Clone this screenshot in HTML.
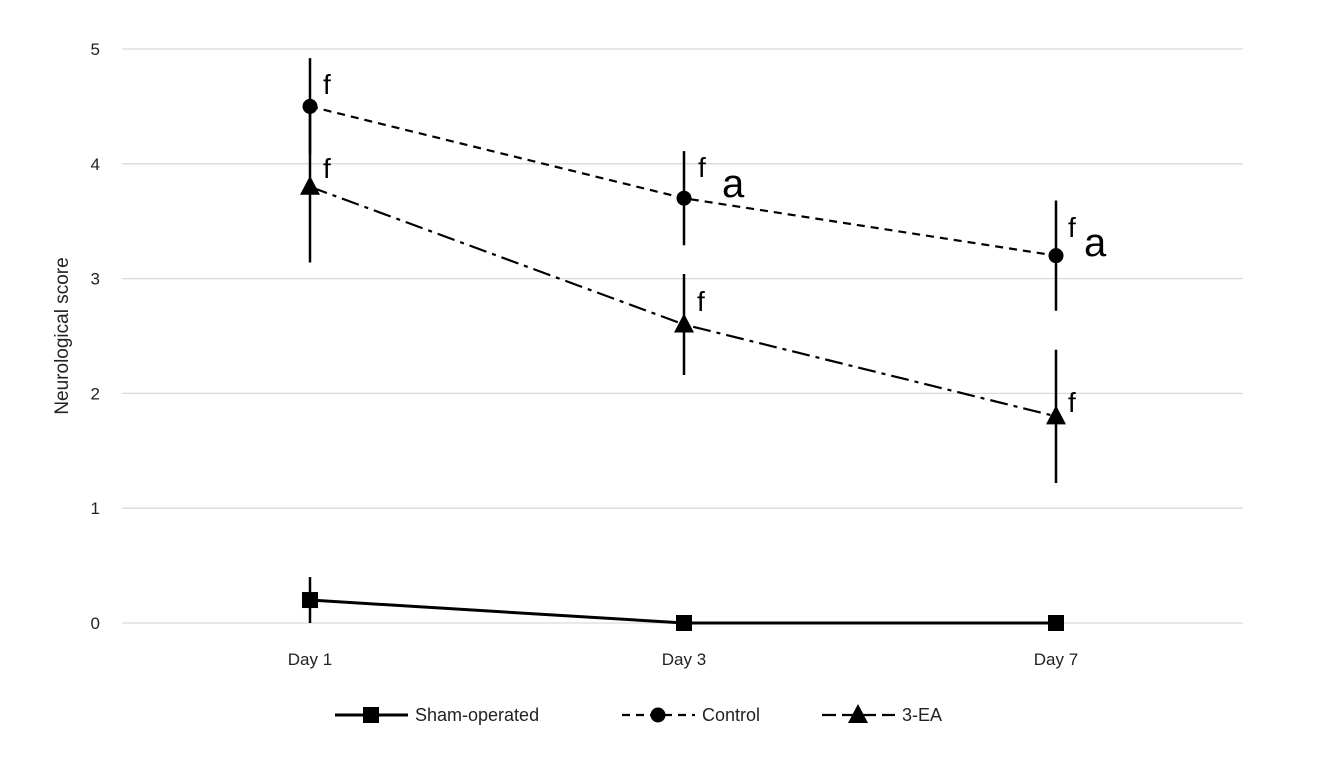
<!DOCTYPE html>
<html><head><meta charset="utf-8"><style>
body{margin:0;background:#fff;}
svg{display:block;font-family:"Liberation Sans",sans-serif;}
</style></head><body>
<svg id="chart" width="1322" height="782"></svg>
<script>
const days=["Day 1","Day 3","Day 7"];
const yTicks=[0,1,2,3,4,5];
const sham=[0.2,0,0];
const shamErr=[0.2,0,0];
const control=[4.5,3.7,3.2];
const controlErr=[0.42,0.41,0.48];
const ea=[3.8,2.6,1.8];
const eaErr=[0.66,0.44,0.58];
const NS="http://www.w3.org/2000/svg";
const svg=document.getElementById('chart');
const X0=122,X1=1243,Y0=623,Y5=49;
const xPos=[310,684,1056];
function x(i){return xPos[0]+(xPos[2]-xPos[0])*i/(days.length-1)*(i===1?0.5015:1);}
function xs(i){return [310,684,1056][i];}
function y(v){return Y0-(Y0-Y5)*v/5;}
function el(t,a,p){const e=document.createElementNS(NS,t);for(const k in a)e.setAttribute(k,a[k]);(p||svg).appendChild(e);return e;}
yTicks.forEach(t=>{
 const g=el('line',{x1:X0,x2:X1,y1:y(t),y2:y(t),stroke:'#d9d9d9','stroke-width':1.3});
 
 
 const l=el('text',{x:100,y:y(t)+6,'font-size':17,'text-anchor':'end',fill:'#222'});l.textContent=t;
 
 
});
days.forEach((d,i)=>{
 const l=el('text',{x:xs(i),y:665,'font-size':17,'text-anchor':'middle',fill:'#222'});l.textContent=d;
 
 
});
const yt=el('text',{x:68,y:336,'font-size':19,'text-anchor':'middle',fill:'#222',transform:'rotate(-90 68 336)'});
yt.textContent='Neurological score';


function series(vals,errs,dash,marker,name){
 const g=el('g',{});
 
 
 vals.forEach((v,i)=>{ if(errs[i]>0){
  const e=el('line',{x1:xs(i),x2:xs(i),y1:y(v+errs[i]),y2:y(v-errs[i]),stroke:'#000','stroke-width':2.5},g);
  
  }});
 const p=el('polyline',{points:vals.map((v,i)=>xs(i)+','+y(v)).join(' '),fill:'none',stroke:'#000','stroke-width':dash?2.2:3,'stroke-dasharray':dash||'none'},g);
 
 
 vals.forEach((v,i)=>{const m=drawMarker(marker,xs(i),y(v),g);
  
  });
}
function drawMarker(t,cx,cy,p){
 if(t==='square')return el('rect',{x:cx-8,y:cy-8,width:16,height:16,fill:'#000'},p);
 if(t==='circle')return el('circle',{cx:cx,cy:cy,r:7.5,fill:'#000'},p);
 return el('polygon',{points:`${cx},${cy-11} ${cx-10},${cy+8} ${cx+10},${cy+8}`,fill:'#000'},p);
}
series(sham,shamErr,null,'square','sham');
series(control,controlErr,'8,6','circle','control');
series(ea,eaErr,'18,6,4,6','triangle','3-ea');
const ann=[[323,94,'f',28],[323,178,'f',28],[698,177,'f',28],[722,197,'a',40],[697,311,'f',28],[1068,237,'f',28],[1084,256,'a',40],[1068,412,'f',28]];
ann.forEach(a=>{const t=el('text',{x:a[0],y:a[1],'font-size':a[3],fill:'#000'});t.textContent=a[2];
 
 });
const leg=[[335,'square','Sham-operated',null],[622,'circle','Control','8,6'],[822,'triangle','3-EA','14,6']];
leg.forEach(l=>{const g=el('g',{});
 
 
 el('line',{x1:l[0],x2:l[0]+73,y1:715,y2:715,stroke:'#000','stroke-width':l[3]?2.2:3,'stroke-dasharray':l[3]||'none'},g);
 drawMarker(l[1],l[0]+36,715,g);
 const t=el('text',{x:l[0]+80,y:721,'font-size':18,fill:'#222'},g);t.textContent=l[2];});
</script>
</body></html>
